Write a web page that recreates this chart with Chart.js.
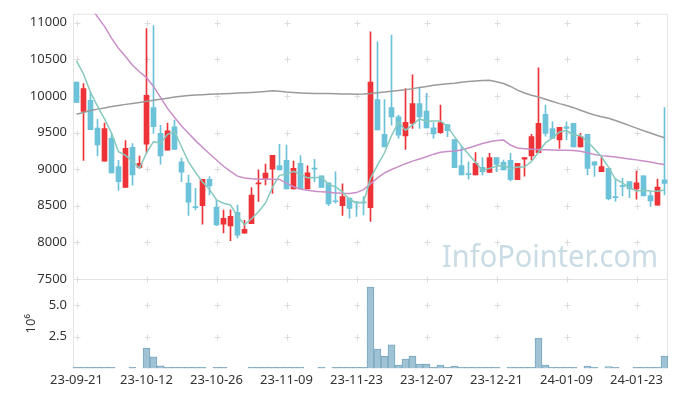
<!DOCTYPE html>
<html>
<head>
<meta charset="utf-8">
<script src="https://cdn.jsdelivr.net/npm/chart.js@4.4.0/dist/chart.umd.min.js"></script>
<style>
  html, body { margin: 0; padding: 0; background: #fff; }
  #wrap { width: 677px; height: 396px; }
</style>
</head>
<body>
<div id="wrap"><canvas id="chart"></canvas></div>
<script>
// trading days
const dates = [
  '23-09-21','23-09-22','23-09-25','23-09-26','23-09-27','23-10-04','23-10-05','23-10-06','23-10-10','23-10-11',
  '23-10-12','23-10-13','23-10-16','23-10-17','23-10-18','23-10-19','23-10-20','23-10-23','23-10-24','23-10-25',
  '23-10-26','23-10-27','23-10-30','23-10-31','23-11-01','23-11-02','23-11-03','23-11-06','23-11-07','23-11-08',
  '23-11-09','23-11-10','23-11-13','23-11-14','23-11-15','23-11-16','23-11-17','23-11-20','23-11-21','23-11-22',
  '23-11-23','23-11-24','23-11-27','23-11-28','23-11-29','23-11-30','23-12-01','23-12-04','23-12-05','23-12-06',
  '23-12-07','23-12-08','23-12-11','23-12-12','23-12-13','23-12-14','23-12-15','23-12-18','23-12-19','23-12-20',
  '23-12-21','23-12-22','23-12-26','23-12-27','23-12-28','24-01-02','24-01-03','24-01-04','24-01-05','24-01-08',
  '24-01-09','24-01-10','24-01-11','24-01-12','24-01-15','24-01-16','24-01-17','24-01-18','24-01-19','24-01-22',
  '24-01-23','24-01-24','24-01-25','24-01-26','24-01-29'
];

const opens = [
  10190, 9790, 9940, 9560, 9110, 9420, 9035, 8750, 9300, 9025,
  9340, 9840, 9490, 9260, 9580, 9100, 8810, 8485, 8500, 8860,
  8480, 8250, 8225, 8410, 8125, 8255, 8800, 8875, 9000, 9050,
  9120, 8730, 9080, 8730, 9010, 8910, 8815, 8560, 8500, 8605,
  8545, 8545, 8475, 9950, 9475, 9840, 9715, 9455, 9625, 9895,
  9795, 9565, 9500, 9610, 9405, 9050, 8935, 8920, 9025, 8955,
  9160, 9095, 9120, 8855, 9135, 9180, 9225, 9750, 9555, 9400,
  9580, 9625, 9305, 9475, 9100, 8965, 9010, 8625, 8775, 8830,
  8730, 8910, 8640, 8510, 8855
];
const highs = [
  10190, 10170, 10050, 9680, 9630, 9490, 9120, 9390, 9350, 9180,
  10920, 10960, 9600, 9630, 9670, 9150, 8920, 8740, 8860, 8900,
  8580, 8440, 8445, 8510, 8300, 8750, 8990, 9070, 9190, 9340,
  9330, 9110, 9185, 9045, 9135, 8910, 8815, 8965, 8800, 8605,
  8560, 8625, 10875, 10740, 9950, 10830, 9740, 10100, 10290, 10115,
  10035, 9635, 9875, 9610, 9405, 9305, 9100, 9225, 9160, 9215,
  9160, 9125, 9215, 9080, 9160, 9475, 10385, 9875, 9645, 9570,
  9645, 9625, 9490, 9475, 9100, 9170, 9010, 8875, 8875, 8830,
  8975, 8910, 8695, 8865, 9840
];
const lows = [
  9910, 9120, 9540, 9180, 9110, 8950, 8710, 8750, 8780, 9010,
  9220, 9490, 9070, 9260, 9270, 8830, 8370, 8445, 8250, 8650,
  8230, 8130, 8025, 8060, 8125, 8255, 8560, 8785, 8670, 8990,
  8730, 8730, 8730, 8730, 8830, 8750, 8500, 8535, 8370, 8330,
  8355, 8375, 8285, 9535, 9305, 9600, 9420, 9270, 9555, 9555,
  9565, 9420, 9490, 9445, 9020, 8920, 8865, 8920, 8920, 8955,
  8965, 8990, 8840, 8855, 8905, 9125, 9225, 9450, 9420, 9285,
  9400, 9305, 9305, 8920, 8900, 8965, 8580, 8560, 8635, 8610,
  8590, 8635, 8490, 8510, 8650
];
const closes = [
  9910, 10100, 9540, 9330, 9555, 8950, 8830, 9285, 8920, 9080,
  10010, 9580, 9180, 9525, 9270, 8960, 8550, 8475, 8860, 8770,
  8240, 8330, 8355, 8100, 8180, 8645, 8815, 8945, 9190, 8990,
  8730, 9010, 8730, 8950, 9000, 8750, 8525, 8555, 8625, 8465,
  8540, 8540, 10190, 9535, 9305, 9715, 9465, 9640, 9895, 9715,
  9565, 9480, 9635, 9525, 9020, 8920, 8925, 9080, 8965, 9160,
  9065, 8990, 8855, 9080, 9160, 9445, 9625, 9490, 9420, 9570,
  9555, 9305, 9445, 9010, 9055, 9035, 8595, 8610, 8760, 8730,
  8815, 8635, 8565, 8755, 8805
];

// moving average lines
const ma5 = [
  10480, 10300, 10050, 9860, 9686, 9494, 9239, 9188, 9107, 9012,
  9223, 9376, 9355, 9477, 9516, 9307, 9100, 8958, 8823, 8723,
  8579, 8534, 8511, 8360, 8241, 8322, 8419, 8537, 8754, 8916,
  8933, 8972, 8930, 8882, 8884, 8888, 8792, 8757, 8691, 8585,
  8543, 8546, 8874, 9056, 9224, 9459, 9643, 9532, 9605, 9686,
  9656, 9659, 9658, 9584, 9445, 9316, 9205, 9094, 8982, 9011,
  9040, 9052, 9007, 9030, 9030, 9105, 9232, 9359, 9427, 9509,
  9531, 9468, 9459, 9377, 9275, 9170, 9028, 8862, 8812, 8746,
  8703, 8711, 8702, 8700, 8716
];
const ma20 = [
  11450, 11340, 11220, 11080, 10950, 10790, 10650, 10540, 10420, 10330,
  10250, 10130, 9980, 9830, 9710, 9590, 9490, 9390, 9300, 9210,
  9125, 9040, 8970, 8905, 8880, 8868, 8864, 8862, 8862, 8860,
  8810, 8760, 8730, 8712, 8700, 8690, 8684, 8676, 8670, 8668,
  8680, 8720, 8800, 8880, 8950, 8995, 9035, 9075, 9110, 9140,
  9170, 9205, 9230, 9240, 9248, 9262, 9290, 9320, 9350, 9375,
  9390, 9398, 9330, 9290, 9280, 9272, 9268, 9265, 9262, 9260,
  9258, 9254, 9245, 9225, 9200, 9185, 9175, 9165, 9152, 9140,
  9127, 9112, 9097, 9078, 9065
];
const ma60 = [
  9750, 9775, 9800, 9820, 9835, 9855, 9870, 9885, 9898, 9912,
  9928, 9940, 9955, 9970, 9985, 9995, 10005, 10012, 10018, 10022,
  10025, 10030, 10035, 10040, 10043, 10048, 10055, 10062, 10070, 10065,
  10055, 10048, 10042, 10038, 10035, 10033, 10032, 10030, 10028, 10026,
  10024, 10026, 10034, 10045, 10055, 10065, 10075, 10085, 10100, 10115,
  10130, 10145, 10158, 10166, 10175, 10188, 10196, 10204, 10210, 10215,
  10195, 10170, 10130, 10080, 10040, 10010, 9985, 9955, 9925, 9895,
  9870, 9840, 9805, 9770, 9740, 9715, 9695, 9665, 9630, 9595,
  9560, 9525, 9495, 9460, 9430
];

const volumes = [
  80000, 80000, 80000, 80000, 80000, 80000, 0, 0, 80000, 0,
  1610000, 920000, 210000, 80000, 80000, 80000, 80000, 80000, 80000, 0,
  80000, 80000, 0, 0, 0, 80000, 80000, 80000, 80000, 80000,
  80000, 80000, 80000, 0, 0, 80000, 0, 80000, 80000, 80000,
  80000, 80000, 6440000, 1530000, 950000, 1870000, 260000, 740000, 980000, 340000,
  340000, 80000, 260000, 80000, 190000, 80000, 80000, 80000, 80000, 80000,
  80000, 0, 80000, 80000, 80000, 80000, 2400000, 260000, 80000, 80000,
  80000, 80000, 0, 190000, 80000, 0, 150000, 80000, 0, 0,
  80000, 80000, 80000, 80000, 980000
];

// axis ticks
const priceTicks = [7500, 8000, 8500, 9000, 9500, 10000, 10500, 11000];
const volumeTicks = [2500000, 5000000];

const UP = '#ee3338';
const DOWN = '#6cc2d8';
const candleColors = closes.map((c, i) => c >= opens[i] ? UP : DOWN);

Chart.defaults.font.family = '"Noto Sans", sans-serif';
Chart.defaults.font.size = 13;
Chart.defaults.color = '#333';

const axisFont = { family: '"Noto Sans", sans-serif', size: 13 };

// light frame, "+" grid marks and watermark
const framePlugin = {
  id: 'frame',
  beforeDatasetsDraw(chart) {
    const { ctx, chartArea: a, scales: { x, y, yv } } = chart;
    ctx.save();
    ctx.strokeStyle = '#e4e4e4';
    ctx.lineWidth = 1;
    ctx.beginPath();
    ctx.moveTo(a.left, a.top + 0.5); ctx.lineTo(a.right, a.top + 0.5);
    ctx.moveTo(a.left, Math.round(y.bottom) + 0.5); ctx.lineTo(a.right, Math.round(y.bottom) + 0.5);
    ctx.moveTo(a.left + 0.5, a.top); ctx.lineTo(a.left + 0.5, a.bottom);
    ctx.moveTo(a.right - 0.5, a.top); ctx.lineTo(a.right - 0.5, a.bottom);
    ctx.stroke();

    ctx.strokeStyle = '#dcdcdc';
    ctx.beginPath();
    const rows = priceTicks.map(v => y.getPixelForValue(v))
      .concat(volumeTicks.map(v => yv.getPixelForValue(v)));
    dates.forEach((d, i) => {
      if (i % 10 !== 0) return;
      const px = Math.round(x.getPixelForValue(i)) + 0.5;
      rows.forEach(r => {
        const py = Math.round(r) + 0.5;
        ctx.moveTo(px - 3, py); ctx.lineTo(px + 3, py);
        ctx.moveTo(px, py - 3); ctx.lineTo(px, py + 3);
      });
    });
    ctx.stroke();

    ctx.fillStyle = '#c9dbe5';
    ctx.font = '30px "Noto Sans", sans-serif';
    ctx.textAlign = 'right';
    ctx.textBaseline = 'alphabetic';
    ctx.fillText('InfoPointer.com', a.right - 10, y.bottom - 12, 216);
    ctx.restore();
  }
};

new Chart(document.getElementById('chart'), {
  type: 'bar',
  data: {
    labels: dates,
    datasets: [
      {
        type: 'line', data: ma5, yAxisID: 'y', order: 0,
        borderColor: '#86c9bd', borderWidth: 1.5, pointRadius: 0, tension: 0
      },
      {
        type: 'line', data: ma20, yAxisID: 'y', order: 0,
        borderColor: '#c98ec8', borderWidth: 1.5, pointRadius: 0, tension: 0
      },
      {
        type: 'line', data: ma60, yAxisID: 'y', order: 0,
        borderColor: '#9b9b9b', borderWidth: 1.5, pointRadius: 0, tension: 0
      },
      {
        // candle bodies
        data: opens.map((o, i) => [o, closes[i]]),
        yAxisID: 'y', order: 1, grouped: false,
        barThickness: 5, minBarLength: 1,
        backgroundColor: candleColors
      },
      {
        // wicks
        data: lows.map((l, i) => [l, highs[i]]),
        yAxisID: 'y', order: 2, grouped: false,
        barThickness: 1,
        backgroundColor: candleColors
      },
      {
        // volume
        data: volumes,
        yAxisID: 'yv', order: 3, grouped: false,
        barPercentage: 1, categoryPercentage: 1,
        backgroundColor: '#9fc3d4', borderColor: '#79a7be', borderWidth: 1
      }
    ]
  },
  options: {
    responsive: true,
    maintainAspectRatio: false,
    animation: false,
    layout: { padding: { top: 10, right: 9, bottom: 4, left: 0 } },
    plugins: {
      legend: { display: false },
      tooltip: { enabled: false }
    },
    scales: {
      x: {
        type: 'category',
        offset: true,
        grid: { display: false, drawTicks: false },
        border: { display: false },
        ticks: {
          autoSkip: false, maxRotation: 0, padding: 4, color: '#333', font: axisFont,
          callback: (v, i) => i % 10 === 0 ? dates[i] : ''
        }
      },
      y: {
        position: 'left', stack: 'panes', stackWeight: 267, weight: 1,
        min: 7500, max: 11122,
        grid: { display: false, drawTicks: false },
        border: { display: false },
        afterBuildTicks: s => { s.ticks = priceTicks.map(v => ({ value: v })); },
        ticks: { padding: 6, color: '#333', font: axisFont, callback: v => String(v) },
        afterFit: s => { s.width = 73; }
      },
      yv: {
        position: 'left', stack: 'panes', stackWeight: 90, weight: 0,
        min: 0, max: 7070000,
        grid: { display: false, drawTicks: false },
        border: { display: false },
        afterBuildTicks: s => { s.ticks = volumeTicks.map(v => ({ value: v })); },
        ticks: {
          padding: 6, color: '#333', font: axisFont,
          callback: v => (v / 1e6).toFixed(1)
        },
        title: { display: true, text: '10⁶', color: '#333', font: axisFont, padding: { top: 23, bottom: 0 } },
        afterFit: s => { s.width = 73; }
      }
    }
  },
  plugins: [framePlugin]
});
</script>
</body>
</html>
